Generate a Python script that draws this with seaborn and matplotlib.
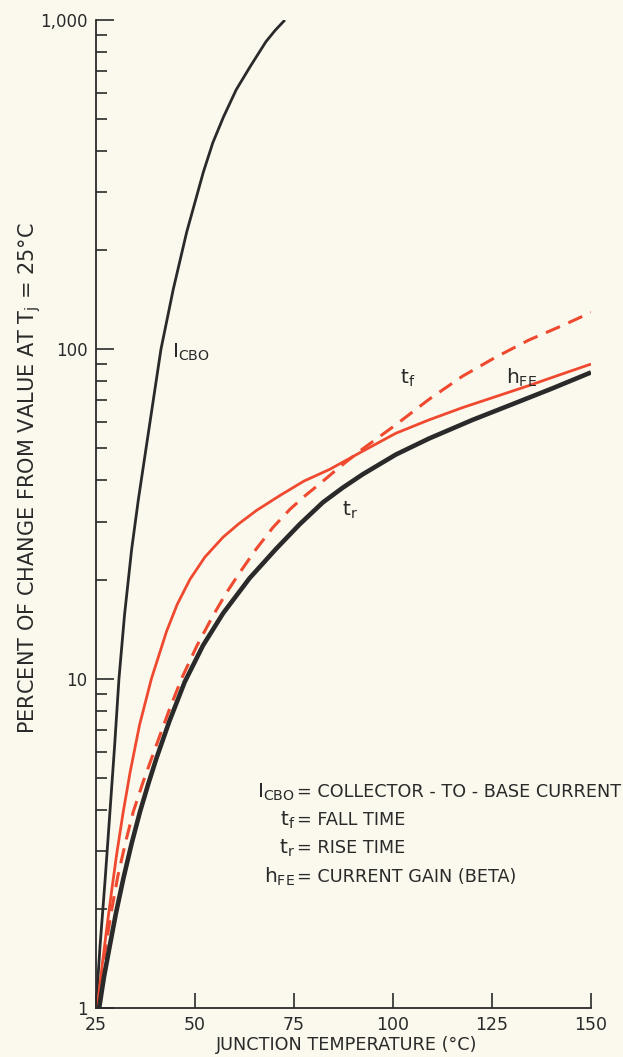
import matplotlib
matplotlib.use("Agg")
import matplotlib.pyplot as plt
import pandas as pd
import seaborn as sns
from matplotlib.ticker import LogLocator, FuncFormatter, NullFormatter, FixedLocator

# ---- data (junction temperature °C, percent change) ----
icbo_temp = [25.0, 26.0, 27.3, 28.5, 29.7, 30.8, 32.2, 34.0, 35.7, 37.6, 39.5, 41.4,
             44.5, 47.9, 52.1, 54.5, 57.2, 60.4, 63.9, 67.9, 70.2, 72.7]
icbo_pct = [1.0, 1.53, 2.45, 3.91, 6.25, 10, 15.6, 24.7, 35.0, 49.7, 70.5, 100,
            152, 227, 345, 424, 508, 614, 721, 859, 929, 1000]

tr_temp = [25.8, 27, 28.5, 30, 31.9, 34, 36.1, 38.2, 40.3, 43.5, 47.4, 52, 57.1, 63.8,
           70.5, 76.4, 82.3, 87.3, 92.3, 100.7, 109.1, 120, 130.1, 140, 150]
tr_pct = [1.0, 1.24, 1.55, 1.93, 2.47, 3.16, 3.94, 4.79, 5.75, 7.41, 9.77, 12.6, 15.8, 20.2,
          24.8, 29.4, 34.3, 38.0, 41.7, 47.9, 53.6, 61.0, 68.1, 75.9, 85.1]

hfe_temp = [25.3, 26.5, 27.7, 29, 30.2, 31.8, 33.6, 36, 39, 42.8, 45.5, 48.7, 52.5, 57.1,
            61, 65.5, 71.3, 77.5, 84, 92, 100.7, 109, 117.5, 126, 134.3, 142, 150]
hfe_pct = [1.0, 1.33, 1.74, 2.29, 2.92, 3.89, 5.19, 7.24, 10, 13.9, 16.8, 20.0, 23.4, 26.9,
           29.5, 32.4, 35.9, 39.8, 43.2, 48.8, 55.6, 61.0, 66.5, 71.9, 77.6, 83.6, 90.2]

tf_temp = [25.5, 26.5, 27.5, 29, 30.5, 32.5, 34.4, 37, 40.3, 43.5, 46.6, 50.5, 54.5, 57.9,
           61.3, 65.5, 69.7, 74, 78, 82, 86.5, 92.3, 100.7, 109.1, 117.5, 125.9, 134.3,
           142.7, 150]
tf_pct = [1.0, 1.26, 1.55, 2.0, 2.51, 3.2, 3.94, 4.9, 6.31, 8.04, 10, 12.6, 15.5, 18.2,
          21.0, 24.8, 28.8, 32.7, 36.1, 39.5, 43.9, 49.8, 59.0, 70.5, 82.8, 94.6, 106.7,
          118, 129.4]

x_ticks = [25, 50, 75, 100, 125, 150]
y_ticks = [1, 10, 100, 1000]

legend_symbols = [r"$\mathrm{I_{CBO}}$", r"$\mathrm{t_f}$", r"$\mathrm{t_r}$", r"$\mathrm{h_{FE}}$"]
legend_texts = ["= COLLECTOR - TO - BASE CURRENT", "= FALL TIME", "= RISE TIME",
                "= CURRENT GAIN (BETA)"]

# ---- style ----
BG = "#fbf9ee"
INK = "#2a2a2a"
RED = "#ef4a2f"

sns.set_theme(style="ticks")
plt.rcParams["font.family"] = ["DejaVu Sans"]
plt.rcParams["mathtext.fontset"] = "dejavusans"
plt.rcParams["text.color"] = INK
plt.rcParams["axes.edgecolor"] = INK
plt.rcParams["xtick.color"] = INK
plt.rcParams["ytick.color"] = INK

W, H = 623, 1057
fig = plt.figure(figsize=(W / 100, H / 100), dpi=100, facecolor=BG)
ax = fig.add_axes([96 / W, 1 - 1008 / H, (591 - 96) / W, (1008 - 20) / H])
ax.set_facecolor(BG)


def draw(xs, ys, color, lw, dashes=None):
    df = pd.DataFrame({"T": xs, "P": ys})
    sns.lineplot(data=df, x="T", y="P", ax=ax, color=color, linewidth=lw,
                 estimator=None, sort=False)
    line = ax.lines[-1]
    line.set_solid_capstyle("butt")
    line.set_solid_joinstyle("round")
    if dashes is not None:
        line.set_dashes(dashes)
        line.set_dash_capstyle("butt")


draw(icbo_temp, icbo_pct, INK, 2.0)
draw(hfe_temp, hfe_pct, RED, 2.0)
draw(tf_temp, tf_pct, RED, 2.2, dashes=(5.0, 3.0))
draw(tr_temp, tr_pct, INK, 3.3)

ax.set_yscale("log")
ax.set_xlim(25, 150)
ax.set_ylim(1, 1000)

ax.xaxis.set_major_locator(FixedLocator(x_ticks))
ax.yaxis.set_major_locator(FixedLocator(y_ticks))
ax.yaxis.set_minor_locator(LogLocator(base=10, subs=[2, 3, 4, 5, 6, 7, 8, 9]))
ax.yaxis.set_minor_formatter(NullFormatter())
ax.yaxis.set_major_formatter(FuncFormatter(lambda v, p: f"{int(round(v)):,}"))
ax.xaxis.set_major_formatter(FuncFormatter(lambda v, p: f"{int(v)}"))

ax.tick_params(axis="y", which="major", direction="in", length=13, width=1.2,
               labelsize=12, pad=6)
ax.tick_params(axis="y", which="minor", direction="in", length=8, width=1.2)
ax.tick_params(axis="x", which="major", direction="in", length=11, width=1.2,
               labelsize=12.5, pad=6)
ax.tick_params(axis="x", which="minor", bottom=False)

for s in ["top", "right"]:
    ax.spines[s].set_visible(False)
for s in ["left", "bottom"]:
    ax.spines[s].set_linewidth(1.3)
    ax.spines[s].set_color(INK)

ax.set_xlabel("")
ax.set_ylabel("")
ax.grid(False)

# axis titles
fig.text(347 / W, 1 - 1045 / H, "JUNCTION TEMPERATURE (°C)", ha="center", va="center",
         fontsize=12.7, color=INK)
fig.text(30 / W, 1 - 478 / H, r"PERCENT OF CHANGE FROM VALUE AT T$_\mathrm{j}$ = 25°C",
         ha="center", va="center", rotation=90, fontsize=15, color=INK)

# curve labels
fig.text(172 / W, 1 - 352 / H, r"$\mathrm{I_{CBO}}$", ha="left", va="center",
         fontsize=14.5, color=INK)
fig.text(400 / W, 1 - 378 / H, r"$\mathrm{t_f}$", ha="left", va="center",
         fontsize=14.5, color=INK)
fig.text(506 / W, 1 - 378 / H, r"$\mathrm{h_{FE}}$", ha="left", va="center",
         fontsize=14.5, color=INK)
fig.text(342 / W, 1 - 510 / H, r"$\mathrm{t_r}$", ha="left", va="center",
         fontsize=14.5, color=INK)

# legend block
legend_y = [792, 820, 848, 877]
for sym, txt, yy in zip(legend_symbols, legend_texts, legend_y):
    fig.text(295 / W, 1 - yy / H, sym, ha="right", va="center", fontsize=14.5, color=INK)
    fig.text(297 / W, 1 - yy / H, txt, ha="left", va="center", fontsize=12.7, color=INK)

fig.savefig("out.png", dpi=100, facecolor=BG)
